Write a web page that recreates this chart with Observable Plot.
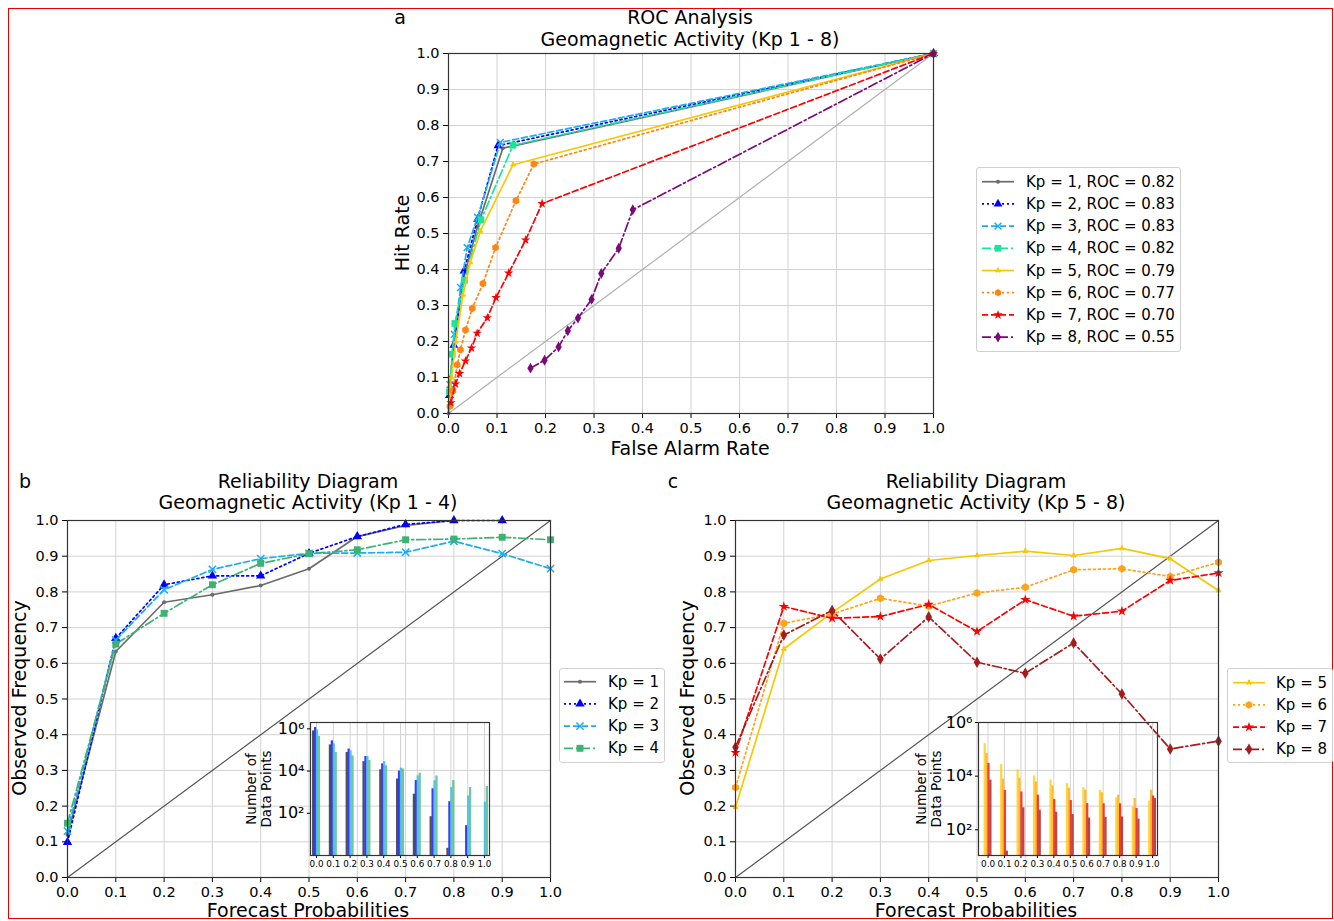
<!DOCTYPE html>
<html><head><meta charset="utf-8">
<script src="https://cdn.jsdelivr.net/npm/d3@7"></script>
<script src="https://cdn.jsdelivr.net/npm/@observablehq/plot@0.6"></script>
<style>
body{margin:0;background:#fff;font-family:"DejaVu Sans",sans-serif;}
#wrap{position:relative;width:1334px;height:921px;overflow:hidden;background:#fff;}
.t{position:absolute;white-space:nowrap;color:#000;transform:translate(-50%,-50%);line-height:1.15;text-align:center;}
.vt{position:absolute;white-space:nowrap;color:#000;transform:translate(-50%,-50%) rotate(-90deg);line-height:1.1;text-align:center;}
.inset [aria-label^="x-axis"] text{font-size:8.8px;}
.inset [aria-label^="y-axis"] text{font-size:16px;}
.legend{position:absolute;background:#fff;border:1px solid #d0d0d0;border-radius:3px;box-sizing:border-box;}
.legend div{position:absolute;white-space:nowrap;font-size:15px;transform:translateY(-50%);color:#000;}
</style></head>
<body><div id="wrap"></div>
<script>
// ---------------- DATA ----------------
const probs = [0, 0.1, 0.2, 0.3, 0.4, 0.5, 0.6, 0.7, 0.8, 0.9, 1.0];
const kpLevels = [1, 2, 3, 4, 5, 6, 7, 8];
const rocScores = [0.82, 0.83, 0.83, 0.82, 0.79, 0.77, 0.70, 0.55];

// ROC curves: false alarm rate / hit rate
const far1 = [0, 0.004, 0.012, 0.030, 0.060, 0.112, 1];
const hit1 = [0, 0.10, 0.20, 0.37, 0.52, 0.737, 1];
const far2 = [0.002, 0.011, 0.032, 0.060, 0.102, 1];
const hit2 = [0.05, 0.19, 0.396, 0.54, 0.744, 1];
const far3 = [0.003, 0.012, 0.025, 0.0385, 0.060, 0.107, 1];
const hit3 = [0.08, 0.22, 0.35, 0.461, 0.545, 0.753, 1];
const far4 = [0.002, 0.0076, 0.013, 0.033, 0.067, 0.133, 1];
const hit4 = [0.06, 0.165, 0.25, 0.37, 0.538, 0.745, 1];
const far5 = [0.002, 0.006, 0.015, 0.030, 0.045, 0.066, 0.133, 1];
const hit5 = [0.02, 0.10, 0.20, 0.33, 0.42, 0.507, 0.691, 1];
const far6 = [0.003, 0.009, 0.018, 0.0247, 0.035, 0.049, 0.071, 0.097, 0.139, 0.176, 1];
const hit6 = [0.02, 0.063, 0.135, 0.177, 0.232, 0.292, 0.361, 0.461, 0.591, 0.693, 1];
const far7 = [0.005, 0.0144, 0.0227, 0.035, 0.0474, 0.059, 0.080, 0.098, 0.124, 0.159, 0.193, 1];
const hit7 = [0.03, 0.082, 0.111, 0.146, 0.182, 0.223, 0.266, 0.322, 0.390, 0.482, 0.583, 1];
const far8 = [0.169, 0.198, 0.227, 0.246, 0.267, 0.295, 0.315, 0.351, 0.380, 1];
const hit8 = [0.126, 0.148, 0.185, 0.230, 0.265, 0.317, 0.389, 0.459, 0.566, 1];

// Reliability: observed frequency per forecast probability bin
const rel1 = [0.12, 0.633, 0.771, 0.792, 0.818, 0.865, 0.955, 0.986, 1.0, null, null];
const rel2 = [0.099, 0.670, 0.820, 0.845, 0.845, 0.908, 0.955, 0.989, 1.0, 1.0, null];
const rel3 = [0.13, 0.665, 0.806, 0.863, 0.893, 0.908, 0.909, 0.911, 0.942, 0.907, 0.865];
const rel4 = [0.152, 0.654, 0.740, 0.820, 0.880, 0.907, 0.918, 0.946, 0.948, 0.953, 0.946];
const rel5 = [0.197, 0.640, 0.742, 0.836, 0.888, 0.902, 0.914, 0.902, 0.922, 0.893, 0.804];
const rel6 = [0.252, 0.712, 0.738, 0.782, 0.760, 0.797, 0.813, 0.862, 0.865, 0.843, 0.883];
const rel7 = [0.350, 0.759, 0.726, 0.731, 0.765, 0.689, 0.778, 0.732, 0.746, 0.832, 0.853];
const rel8 = [0.365, 0.679, 0.748, 0.612, 0.730, 0.603, 0.572, 0.657, 0.514, 0.360, 0.382];

// Number of data points per bin
const cnt1 = [794000, 174000, 76000, 28000, 11500, 4200, 800, 69, 2.2, null, null];
const cnt2 = [1150000, 270000, 110000, 49000, 22000, 10000, 3550, 1450, 355, 26, null];
const cnt3 = [890000, 195000, 91000, 49000, 28000, 13800, 5900, 3470, 1660, 660, 340];
const cnt4 = [437000, 76000, 52500, 31600, 17800, 12600, 7900, 5900, 3550, 1660, 1860];
const cnt5 = [162000, 27000, 17000, 10200, 7200, 5250, 3700, 2950, 1550, 690, 1175];
const cnt6 = [71000, 7800, 8300, 6000, 4300, 3550, 3000, 2400, 1950, 1480, 3000];
const cnt7 = [30000, 2950, 2570, 1950, 1350, 1230, 950, 930, 930, 620, 1820];
const cnt8 = [7100, 16, 660, 540, 450, 370, 275, 290, 300, 250, 1480];
const histTicks = [1e2, 1e4, 1e6];
const diagonal = [0, 1];

// ---------------- STYLES ----------------
const DOT = "2,3", DASH = "6,3", DASHDOT = "9,3,2,3";
const rocStyle = [
  {color:"#6b6b6b", dash:null,    symbol:"circle",  r:2.0},
  {color:"#0000ff", dash:DOT,     symbol:"triangle",r:3.3},
  {color:"#1aaef0", dash:DASH,    symbol:"times",   r:3.2, stroke:true},
  {color:"#1de39b", dash:DASHDOT, symbol:"square",  r:3.8},
  {color:"#f7c800", dash:null,    symbol:"wye",     r:2.3, rotate:180},
  {color:"#ff8512", dash:DOT,     symbol:"hexagon", r:3.3},
  {color:"#ff0000", dash:DASH,    symbol:"star",    r:3.0},
  {color:"#7a0a7a", dash:DASHDOT, symbol:"diamond", r:3.3}
];
const relStyle = [
  {color:"#6b6b6b", dash:null,    symbol:"circle",  r:2.0},
  {color:"#0000ff", dash:DOT,     symbol:"triangle",r:3.5},
  {color:"#1aaef0", dash:DASH,    symbol:"times",   r:3.4, stroke:true},
  {color:"#3cb371", dash:DASHDOT, symbol:"square",  r:3.9},
  {color:"#f7c800", dash:null,    symbol:"wye",     r:2.3, rotate:180},
  {color:"#ffa21a", dash:DOT,     symbol:"hexagon", r:3.5},
  {color:"#ff0000", dash:DASH,    symbol:"star",    r:3.2},
  {color:"#a51c1c", dash:DASHDOT, symbol:"diamond", r:3.5}
];
const barColorsB = ["#3a3a3a", "#1f1fff", "#3cbdf0", "#5cc08c"];
const barColorsC = ["#ffd21a", "#ffae22", "#ee2424", "#a83232"];

const W = document.getElementById("wrap");
const fmt1 = d3.format(".1f");
const sup = {0:"⁰",1:"¹",2:"²",3:"³",4:"⁴",5:"⁵",6:"⁶"};

function txt(s, x, y, size, rot=false){
  const d = document.createElement("div");
  d.className = rot ? "vt" : "t";
  d.innerHTML = s;
  d.style.left = x + "px"; d.style.top = y + "px"; d.style.fontSize = size + "px";
  W.appendChild(d);
}
function put(el, left, top, cls){
  el.style.position = "absolute"; el.style.left = left + "px"; el.style.top = top + "px";
  if (cls) el.classList.add(cls);
  W.appendChild(el);
}
function seriesMarks(rows, st){
  const marks = [Plot.line(rows, {x:"x", y:"y", stroke: st.color, strokeWidth: 1.7, strokeDasharray: st.dash || undefined})];
  const o = {x:"x", y:"y", symbol: st.symbol, r: st.r};
  if (st.stroke){ o.stroke = st.color; o.fill = "none"; o.strokeWidth = 1.5; }
  else { o.fill = st.color; o.stroke = "none"; }
  if (st.rotate) o.rotate = st.rotate;
  marks.push(Plot.dot(rows, o));
  return marks;
}
const gridMarks = () => [
  Plot.ruleX(probs, {stroke:"#d2d2d2", strokeWidth:1}),
  Plot.ruleY(probs, {stroke:"#d2d2d2", strokeWidth:1})
];
function mainPlot(opts, marks){
  return Plot.plot({
    width: opts.width, height: opts.height,
    marginLeft: opts.ml, marginTop: opts.mt, marginRight: opts.mr, marginBottom: opts.mb,
    style: {fontFamily:"DejaVu Sans", fontSize:"14.5px", color:"#000", background:"transparent", overflow:"visible"},
    x: {domain:[0,1], ticks: probs, tickFormat: fmt1, tickSize:5, tickPadding:4, label:null},
    y: {domain:[0,1], ticks: probs, tickFormat: fmt1, tickSize:5, tickPadding:4, label:null},
    marks: [...gridMarks(), ...marks, Plot.frame({stroke:"#333", strokeWidth:1.2})]
  });
}

// red outer border
const border = document.createElement("div");
border.style.cssText = "position:absolute;left:8px;top:8px;width:1325px;height:911px;border:1px solid #e00;box-sizing:border-box;";
W.appendChild(border);

// ---------------- PANEL A: ROC ----------------
const fars = [far1, far2, far3, far4, far5, far6, far7, far8];
const hits = [hit1, hit2, hit3, hit4, hit5, hit6, hit7, hit8];
const rocMarks = [Plot.line(diagonal, {x:d=>d, y:d=>d, stroke:"#b0b0b0", strokeWidth:1.2})];
kpLevels.forEach((k, i) => {
  const rows = fars[i].map((x, j) => ({x, y: hits[i][j]}));
  rocMarks.push(...seriesMarks(rows, rocStyle[i]));
});
const A = mainPlot({width:563, height:460, ml:68, mt:53, mr:10, mb:47}, rocMarks);
put(A, 380, 0);
txt("a", 400, 18, 19);
txt("ROC Analysis", 690, 18, 19);
txt("Geomagnetic Activity (Kp 1 - 8)", 690, 40, 19);
txt("Hit Rate", 402, 233, 19, true);
txt("False Alarm Rate", 690, 449, 19);

// ---------------- PANELS B & C: Reliability ----------------
const rels = [rel1, rel2, rel3, rel4, rel5, rel6, rel7, rel8];
function relMarks(idx){
  const m = [Plot.line(diagonal, {x:d=>d, y:d=>d, stroke:"#555", strokeWidth:1.2})];
  idx.forEach(i => {
    const rows = probs.map((p, j) => ({x:p, y:rels[i][j]})).filter(d => d.y != null);
    m.push(...seriesMarks(rows, relStyle[i]));
  });
  return m;
}
const B = mainPlot({width:560, height:451, ml:67, mt:50, mr:10, mb:44}, relMarks([0,1,2,3]));
put(B, 0, 470);
const C = mainPlot({width:560, height:451, ml:67, mt:50, mr:10, mb:44}, relMarks([4,5,6,7]));
put(C, 668, 470);

txt("b", 25, 482, 19);
txt("Reliability Diagram", 308, 482, 19);
txt("Geomagnetic Activity (Kp 1 - 4)", 308, 503, 19);
txt("Observed Frequency", 19, 698, 19, true);
txt("Forecast Probabilities", 308, 911, 19);
txt("c", 673, 482, 19);
txt("Reliability Diagram", 976, 482, 19);
txt("Geomagnetic Activity (Kp 5 - 8)", 976, 503, 19);
txt("Observed Frequency", 687, 698, 19, true);
txt("Forecast Probabilities", 976, 911, 19);

// ---------------- INSETS ----------------
const cnts = [cnt1, cnt2, cnt3, cnt4, cnt5, cnt6, cnt7, cnt8];
function inset(idx, colors, xDomain, yDomain){
  const step = 0.0115, bw = 0.0135, base = yDomain[0];
  const rows = [];
  idx.forEach((si, k) => probs.forEach((p, j) => {
    const c = cnts[si][j];
    if (c != null) rows.push({p, k, c});
  }));
  const marks = [
    Plot.ruleX(probs, {stroke:"#d2d2d2", strokeWidth:1}),
    ...idx.map((si, k) => Plot.rect(rows.filter(d => d.k === k), {
      x1: d => d.p + (d.k - 1.5) * step - bw / 2,
      x2: d => d.p + (d.k - 1.5) * step + bw / 2,
      y1: () => base, y2: "c", fill: colors[k], fillOpacity: 0.88
    })),
    Plot.frame({stroke:"#333", strokeWidth:1.2})
  ];
  return Plot.plot({
    width: 70 + 179 + 4, height: 20 + 133 + 22,
    marginLeft: 70, marginRight: 4, marginTop: 20, marginBottom: 22,
    style: {fontFamily:"DejaVu Sans", fontSize:"14px", color:"#000", background:"transparent", overflow:"visible"},
    x: {domain: xDomain, ticks: probs, tickFormat: fmt1, tickSize:3, tickPadding:2, label:null},
    y: {type:"log", domain: yDomain, ticks: histTicks, tickFormat: d => "10" + sup[Math.round(Math.log10(d))], tickSize:3, tickPadding:3, label:null},
    marks
  });
}
const IB = inset([0,1,2,3], barColorsB, [-0.036, 1.03], [1, 2e6]);
put(IB, 240, 702, "inset");
const IC = inset([4,5,6,7], barColorsC, [-0.058, 1.03], [11, 1e6]);
put(IC, 907.5, 702, "inset");
txt("Number of<br>Data Points", 259, 789, 13.5, true);
txt("Number of<br>Data Points", 929, 789, 13.5, true);

// ---------------- LEGENDS ----------------
const hexagon = {draw(ctx, size){ const r = Math.sqrt(size / (1.5 * Math.sqrt(3))); for (let i = 0; i < 6; i++){ const a = Math.PI / 3 * i - Math.PI / 2; const x = r * Math.cos(a), y = r * Math.sin(a); if (i) ctx.lineTo(x, y); else ctx.moveTo(x, y);} ctx.closePath(); }};
const symMap = {circle:d3.symbolCircle, triangle:d3.symbolTriangle, times:d3.symbolTimes, square:d3.symbolSquare, wye:d3.symbolWye, hexagon, star:d3.symbolStar, diamond:d3.symbolDiamond};
function legend(left, top, w, h, rowY0, rowStep, lx0, lx1, tx, labels, styles){
  const box = document.createElement("div");
  box.className = "legend";
  box.style.left = left + "px"; box.style.top = top + "px"; box.style.width = w + "px"; box.style.height = h + "px";
  const svg = d3.create("svg").attr("width", w).attr("height", h).style("position","absolute").style("left","0").style("top","0");
  labels.forEach((lab, i) => {
    const st = styles[i], y = rowY0 + i * rowStep;
    svg.append("line").attr("x1", lx0).attr("x2", lx1).attr("y1", y).attr("y2", y)
      .attr("stroke", st.color).attr("stroke-width", 1.7).attr("stroke-dasharray", st.dash || null);
    const p = svg.append("path").attr("d", d3.symbol(symMap[st.symbol], Math.PI * st.r * st.r)())
      .attr("transform", `translate(${(lx0 + lx1) / 2},${y})` + (st.rotate ? ` rotate(${st.rotate})` : ""));
    if (st.stroke) p.attr("fill","none").attr("stroke", st.color).attr("stroke-width", 1.5);
    else p.attr("fill", st.color);
    const t = document.createElement("div");
    t.textContent = lab; t.style.left = tx + "px"; t.style.top = y + "px";
    box.appendChild(t);
  });
  box.appendChild(svg.node());
  W.appendChild(box);
}
legend(976, 167, 205, 185, 13.7, 22.2, 5, 37, 49,
  kpLevels.map((k, i) => `Kp = ${k}, ROC = ${rocScores[i].toFixed(2)}`), rocStyle);
legend(559, 668, 106, 95, 12.7, 22.2, 4, 36, 48,
  kpLevels.slice(0, 4).map(k => `Kp = ${k}`), relStyle.slice(0, 4));
legend(1227, 668, 106, 95, 13.7, 22.2, 5, 37, 48,
  kpLevels.slice(4).map(k => `Kp = ${k}`), relStyle.slice(4));
</script></body></html>
